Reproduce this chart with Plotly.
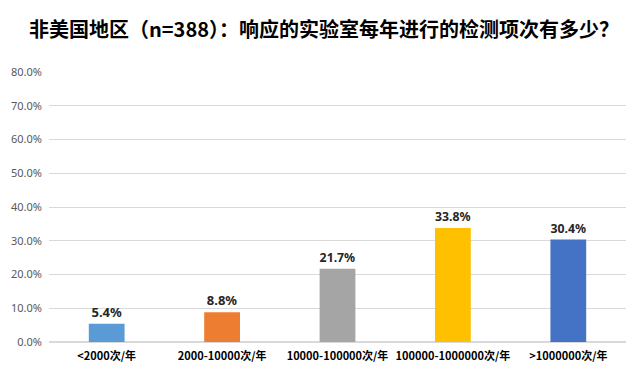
import plotly.graph_objects as go

categories = ["<2000次/年", "2000-10000次/年", "10000-100000次/年", "100000-1000000次/年", ">1000000次/年"]
values = [0.054, 0.088, 0.217, 0.338, 0.304]
labels = ["5.4%", "8.8%", "21.7%", "33.8%", "30.4%"]
colors = ["#5B9BD5", "#ED7D31", "#A5A5A5", "#FFC000", "#4472C4"]
title = "非美国地区（n=388）：响应的实验室每年进行的检测项次有多少？"

fig = go.Figure(go.Bar(
    x=categories, y=values, marker=dict(color=colors, line=dict(width=0)),
    text=["<b>" + t + "</b>" for t in labels], textposition="outside", cliponaxis=False,
    textfont=dict(family="Noto Sans, sans-serif", size=13, color="#262626"),
    width=0.31,
))
fig.update_layout(
    width=632, height=378,
    margin=dict(l=41, r=14, t=64, b=44, autoexpand=False),
    paper_bgcolor="white", plot_bgcolor="white",
    title=dict(text="<b>" + title + "</b>", x=0.5, xanchor="center", y=1 - 22 / 378, yanchor="middle",
               font=dict(family="Noto Sans CJK SC, sans-serif", size=20, color="#000000")),
    showlegend=False,
    font=dict(family="Noto Sans CJK SC, sans-serif"),
)
fig.update_yaxes(range=[0, 0.8], dtick=0.1, tickformat=".1%", showgrid=True, gridcolor="#D9D9D9",
                 zeroline=True, zerolinecolor="#D9D9D9", showline=False, ticklabelstandoff=6,
                 automargin=False,
                 tickfont=dict(family="Noto Sans, sans-serif", size=11, color="#595959"), ticks="")
fig.update_xaxes(showline=True, linecolor="#D9D9D9", ticks="", automargin=False, ticklabelstandoff=4,
                 tickvals=categories, ticktext=["<b>" + c + "</b>" for c in categories],
                 tickfont=dict(family="Noto Sans CJK SC, sans-serif", size=11, color="#000000"))
fig.write_html("out.html")
